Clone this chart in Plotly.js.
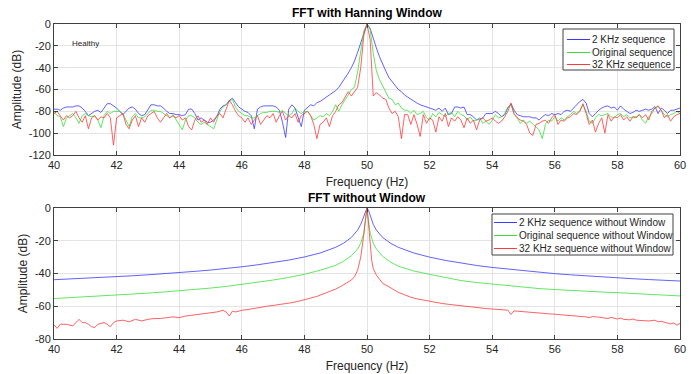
<!DOCTYPE html>
<html>
<head>
<meta charset="utf-8">
<script src="https://cdn.plot.ly/plotly-3.0.1.min.js"></script>
<style>html,body{margin:0;padding:0;background:#fff;}#chart{width:697px;height:374px;}</style>
</head>
<body>
<div id="chart"></div>
<script>
// ---------- Top panel: FFT with Hanning Window (0.1 Hz grid) ----------
const freqTop = [
40.0,40.1,40.2,40.3,40.4,40.5,40.6,40.7,40.8,40.9,
41.0,41.1,41.2,41.3,41.4,41.5,41.6,41.7,41.8,41.9,
42.0,42.1,42.2,42.3,42.4,42.5,42.6,42.7,42.8,42.9,
43.0,43.1,43.2,43.3,43.4,43.5,43.6,43.7,43.8,43.9,
44.0,44.1,44.2,44.3,44.4,44.5,44.6,44.7,44.8,44.9,
45.0,45.1,45.2,45.3,45.4,45.5,45.6,45.7,45.8,45.9,
46.0,46.1,46.2,46.3,46.4,46.5,46.6,46.7,46.8,46.9,
47.0,47.1,47.2,47.3,47.4,47.5,47.6,47.7,47.8,47.9,
48.0,48.1,48.2,48.3,48.4,48.5,48.6,48.7,48.8,48.9,
49.0,49.1,49.2,49.3,49.4,49.5,49.6,49.7,49.8,49.9,
50.0,50.1,50.2,50.3,50.4,50.5,50.6,50.7,50.8,50.9,
51.0,51.1,51.2,51.3,51.4,51.5,51.6,51.7,51.8,51.9,
52.0,52.1,52.2,52.3,52.4,52.5,52.6,52.7,52.8,52.9,
53.0,53.1,53.2,53.3,53.4,53.5,53.6,53.7,53.8,53.9,
54.0,54.1,54.2,54.3,54.4,54.5,54.6,54.7,54.8,54.9,
55.0,55.1,55.2,55.3,55.4,55.5,55.6,55.7,55.8,55.9,
56.0,56.1,56.2,56.3,56.4,56.5,56.6,56.7,56.8,56.9,
57.0,57.1,57.2,57.3,57.4,57.5,57.6,57.7,57.8,57.9,
58.0,58.1,58.2,58.3,58.4,58.5,58.6,58.7,58.8,58.9,
59.0,59.1,59.2,59.3,59.4,59.5,59.6,59.7,59.8,59.9,
60.0];

const han2k = [
-78,-78,-79,-77,-76,-76,-76,-75,-75,-77,
-80,-84,-82,-80,-79,-81,-77,-73,-73,-75,
-77,-80,-83,-80,-77,-76,-78,-82,-84,-83,
-78,-74,-74,-75,-75,-77,-80,-82,-82,-83,
-83,-84,-83,-78,-78,-82,-88,-86,-88,-90,
-90,-88,-85,-78,-75,-74,-70,-68,-72,-76,
-78,-80,-81,-84,-96,-78,-76,-75,-75,-75,
-75,-76,-79,-90,-104,-78,-74,-77,-86,-94,
-79,-76,-74,-75,-72,-71,-69,-67,-65,-63,
-61,-58,-54,-50,-45,-40,-34,-26,-17,-7,
0,-4,-14,-22,-30,-37,-43,-49,-53,-56,
-60,-62,-65,-67,-69,-71,-72.5,-74,-75,-76,
-77,-78,-79,-77,-80,-77,-83,-82,-76,-76,
-77,-76,-83,-83,-85,-88,-87,-86,-82,-82,
-82,-80,-82,-85,-83,-77,-73,-79,-83,-84,
-85,-85,-85,-86,-86,-88,-85,-83,-84,-82,
-83,-82,-83,-80,-79,-80,-77,-74,-71,-69,
-72.5,-82,-85,-82,-79,-77,-75.6,-75,-77,-76,
-79,-75,-78,-80,-82,-81,-79,-80,-79,-78,
-79,-78,-75.6,-82,-77,-79,-82,-79,-79,-78,
-77];

const hanOrig = [
-80,-84,-85,-94,-86,-84,-82,-86,-91,-84,
-82,-84,-85,-84,-88,-95,-84,-80,-82,-80,
-80,-80,-82,-88,-94,-85,-82,-86,-86,-85,
-82,-79,-79,-80,-80,-82,-84,-86,-83,-88,
-92,-97,-88,-84,-84,-86,-90,-92,-90,-92,
-94,-96,-88,-80,-76,-74,-71,-69,-76,-80,
-82,-84,-84,-86,-86,-84,-82,-81,-81,-80,
-80,-80,-81,-79,-82,-84,-82,-77,-80,-82,
-80,-80,-84,-88,-86,-84,-85,-82,-84,-80,
-74,-80,-74,-70,-65,-60,-58,-44,-24,-6,
0,-5,-27,-43,-51,-57,-63,-68,-69,-74,
-72.5,-77,-79,-79,-82,-79,-83,-82,-80,-86,
-88,-82,-85,-81,-83,-85,-82,-81,-85,-80,
-83,-84,-88,-85,-89,-88,-86,-91,-89,-92,
-88,-83,-86,-85,-82,-76,-74,-83,-86,-91,
-88,-91,-89,-92,-94,-97,-105,-92,-88,-89,
-85,-89,-86,-88,-85,-83,-80,-82,-79,-74,
-80,-89,-91,-86,-83,-84,-83,-82,-85,-86,
-83,-82,-85,-83,-86,-85,-85,-83,-88,-91,
-85,-82,-77,-75.6,-79,-83,-85,-83,-82,-80,
-82];

const han32k = [
-82,-80,-84,-88,-84,-86,-84,-80,-86,-90,
-84,-96,-86,-84,-88,-85,-86,-82,-86,-111,
-86,-84,-82,-92,-96,-88,-84,-94,-86,-90,
-84,-82,-80,-86,-90,-86,-82,-86,-84,-86,
-84,-88,-86,-94,-97,-88,-84,-90,-88,-92,
-86,-90,-84,-82,-86,-78,-70,-74,-80,-84,
-86,-90,-86,-92,-88,-84,-92,-88,-84,-86,
-82,-90,-84,-80,-88,-84,-86,-82,-90,-84,
-82,-80,-84,-92,-105,-92,-90,-86,-94,-84,
-80,-74,-72,-67,-62,-66,-62,-58,-40,-10,
0,-14,-66,-63,-65,-68,-69,-77,-82,-80,
-85,-105,-83,-83,-92,-83,-92,-103,-83,-91,
-86,-88,-99,-85,-89,-82,-94,-86,-89,-85,
-88,-95,-86,-91,-88,-97,-88,-86,-89,-88,
-86,-89,-91,-89,-85,-80,-72.5,-82,-86,-88,
-89,-92,-100,-102,-92,-91,-89,-88,-91,-86,
-83,-92,-88,-89,-86,-85,-82,-83,-80,-73,
-82,-92,-88,-99,-91,-86,-100,-83,-89,-85,
-86,-83,-88,-85,-89,-85,-86,-83,-86,-83,
-88,-80,-77,-75,-79,-86,-83,-89,-85,-83,
-82];

// ---------- Bottom panel: FFT without Window ----------
const freqRect = [40,40.5,41,41.5,42,42.5,43,43.5,44,44.5,45,45.5,46,46.5,47,47.5,48,48.5,49,49.25,49.5,49.7,49.8,49.9,49.95,50,
50.05,50.1,50.2,50.3,50.5,50.75,51,51.5,52,52.5,53,53.5,54,54.5,55,55.5,56,56.5,57,57.5,58,58.5,59,59.5,60];
const rect2k = [-43.8,-43.4,-43,-42.5,-42,-41.4,-40.8,-40.2,-39.5,-38.7,-37.9,-37,-35.9,-34.7,-33.3,-31.8,-29.9,-27.5,-24,-21.5,-18,-13.5,-10,-4.5,-1.5,0,
-1.5,-4.5,-10,-13.5,-18,-21.5,-24,-27.5,-30,-32,-33.7,-35.1,-36.3,-37.3,-38.3,-39.3,-40.1,-40.8,-41.5,-42.1,-42.7,-43.2,-43.7,-44.2,-44.6];
const rectOrig = [-55.3,-54.8,-54.3,-53.8,-53.3,-52.7,-52,-51.3,-50.6,-49.8,-48.9,-47.9,-46.7,-45.4,-44,-42.4,-40.5,-38,-35,-32.5,-29.2,-25,-21.5,-15,-8,0,
-8,-15,-21.5,-25,-29.5,-33,-35.5,-38.5,-40.5,-42.6,-44.3,-45.5,-46.5,-47.5,-48.4,-49.2,-49.8,-50.4,-50.9,-51.3,-51.7,-52.2,-52.7,-53.2,-53.7];

const freqRect32 = [40.0,40.1,40.2,40.4,40.6,40.7,40.8,40.9,41.0,41.1,41.2,41.3,41.4,41.5,41.6,41.7,41.8,41.9,42.0,42.2,42.4,42.6,42.8,
43.0,43.2,43.4,43.6,43.8,44.0,44.2,44.4,44.6,44.8,45.0,45.2,45.4,45.5,45.6,45.7,45.8,46.0,46.2,46.4,46.6,46.8,47.0,47.2,47.4,47.6,47.8,
48.0,48.2,48.4,48.6,48.8,49.0,49.2,49.4,49.5,49.6,49.7,49.8,49.85,49.9,49.95,50.0,50.05,50.1,50.15,50.2,50.3,50.4,50.5,50.6,50.8,
51.0,51.2,51.4,51.6,51.8,52.0,52.2,52.4,52.6,52.8,53.0,53.2,53.4,53.6,53.8,54.0,54.2,54.4,54.5,54.6,54.7,54.8,55.0,55.2,55.4,55.6,55.8,
56.0,56.2,56.4,56.6,56.8,57.0,57.1,57.2,57.4,57.6,57.7,57.8,58.0,58.1,58.2,58.4,58.5,58.6,58.8,59.0,59.2,59.3,59.4,59.6,59.7,59.8,59.9,60.0];
const rect32k = [-71.4,-73.5,-71,-71,-72,-70,-68,-70,-70,-71,-72.5,-73,-71,-70.5,-70,-71,-72.5,-70,-69,-68.5,-69.5,-68,-69,
-68,-67.5,-67.5,-67,-66.5,-67,-66,-65.5,-65,-64.5,-64,-63.5,-62.5,-63.5,-66,-63,-63.5,-62.5,-62,-61.2,-60.5,-60,-59.5,-59,-58.3,-57.8,-57,
-56,-55,-54,-52.5,-51,-49.5,-47.5,-45.5,-44,-42,-38,-30,-24,-16,-7,0,-10,-24,-32,-37,-41,-43.5,-46,-47,-49.5,
-51.5,-53,-54.5,-55.5,-56.3,-57,-57.7,-58.3,-58.8,-59.3,-59.8,-60.2,-60.6,-61,-61.4,-61.7,-62,-62.3,-62.4,-65,-62.8,-63,-63.4,-63.7,-64,-64.3,-64.6,
-64.9,-65.2,-65.5,-65.8,-66,-66.5,-67,-66.3,-66.6,-67,-67.5,-66.8,-67.8,-67.2,-68,-68.3,-67.8,-68.5,-68.8,-69,-68.5,-69.5,-69.2,-70,-70.8,-70.2,-71.5,-70.5];

// ---------- Labels / ticks ----------
const seriesNamesTop = ['2 KHz sequence','Original sequence','32 KHz sequence'];
const seriesNamesBottom = ['2 KHz sequence without Window','Original sequence without Window','32 KHz sequence without Window'];
const xTickVals = [40,42,44,46,48,50,52,54,56,58,60];
const yTickValsTop = [0,-20,-40,-60,-80,-100,-120];
const yTickValsBottom = [0,-20,-40,-60,-80];
const titleTop = 'FFT with Hanning Window';
const titleBottom = 'FFT without Window';
const noteText = 'Healthy';

// ---------- Styling ----------
const colors = ['#3a3aff','#3ae03a','#ff3a3a'];
const FONT = '"Liberation Sans", Arial, Helvetica, sans-serif';
const txt = '#262626';
const hy = v => String(v).replace('\u2212','-');

function tr(x, y, name, c, xa, ya) {
  return {x: x, y: y, name: name, type: 'scatter', mode: 'lines',
    line: {color: c, width: 0.8}, xaxis: xa, yaxis: ya, showlegend: false, hoverinfo: 'skip'};
}

const data = [
  tr(freqTop, han2k, seriesNamesTop[0], colors[0], 'x', 'y'),
  tr(freqTop, hanOrig, seriesNamesTop[1], colors[1], 'x', 'y'),
  tr(freqTop, han32k, seriesNamesTop[2], colors[2], 'x', 'y'),
  tr(freqRect, rect2k, seriesNamesBottom[0], colors[0], 'x2', 'y2'),
  tr(freqRect, rectOrig, seriesNamesBottom[1], colors[1], 'x2', 'y2'),
  tr(freqRect32, rect32k, seriesNamesBottom[2], colors[2], 'x2', 'y2')
];

const L = 54, R = 17, T = 24, B = 35, W = 697, H = 374;
const pw = W - L - R, ph = H - T - B;
const px = v => (v - L) / pw;          // pixel x -> paper x
const py = v => 1 - (v - T) / ph;      // pixel y -> paper y

function xax(anchor, title) {
  return {anchor: anchor, domain: [0, 1], range: [40, 60], tickvals: xTickVals,
    ticktext: xTickVals.map(String), ticks: 'inside', ticklen: 4, tickcolor: '#404040',
    showline: true, mirror: 'ticks', linecolor: '#404040', linewidth: 1,
    showgrid: true, gridcolor: '#e4e4e4', zeroline: false,
    tickfont: {family: FONT, size: 11, color: txt},
    title: {text: title, font: {family: FONT, size: 12, color: txt}, standoff: 7}};
}
function yax(anchor, dom, rng, vals) {
  return {anchor: anchor, domain: dom, range: rng, tickvals: vals,
    ticktext: vals.map(v => hy(v)), ticks: 'inside', ticklen: 4, tickcolor: '#404040',
    showline: true, mirror: 'ticks', linecolor: '#404040', linewidth: 1,
    showgrid: true, gridcolor: '#e4e4e4', zeroline: false,
    tickfont: {family: FONT, size: 11, color: txt},
    title: {text: 'Amplitude (dB)', font: {family: FONT, size: 12, color: txt}, standoff: 4}};
}

const shapes = [];
const annotations = [
  {xref: 'paper', yref: 'paper', x: 0.5, y: py(13), xanchor: 'center', yanchor: 'middle', showarrow: false,
   text: '<b>' + titleTop + '</b>', font: {family: FONT, size: 12, color: '#000'}},
  {xref: 'paper', yref: 'paper', x: 0.5, y: py(198), xanchor: 'center', yanchor: 'middle', showarrow: false,
   text: '<b>' + titleBottom + '</b>', font: {family: FONT, size: 12, color: '#000'}},
  {xref: 'x', yref: 'y', x: 40.5, y: -17.4, xanchor: 'left', yanchor: 'middle', showarrow: false,
   text: noteText, font: {family: FONT, size: 8, color: txt}}
];

function legendBox(box, rows, lineX, textX, names) {
  shapes.push({type: 'rect', xref: 'paper', yref: 'paper', x0: px(box[0]), x1: px(box[1]), y0: py(box[3]), y1: py(box[2]),
    line: {color: '#404040', width: 1}, fillcolor: '#ffffff', layer: 'above'});
  names.forEach((n, i) => {
    shapes.push({type: 'line', xref: 'paper', yref: 'paper', x0: px(lineX[0]), x1: px(lineX[1]), y0: py(rows[i]), y1: py(rows[i]),
      line: {color: colors[i], width: 1}, layer: 'above'});
    annotations.push({xref: 'paper', yref: 'paper', x: px(textX), y: py(rows[i]), xanchor: 'left', yanchor: 'middle',
      showarrow: false, text: n, font: {family: FONT, size: 10, color: txt}, xshift: -2});
  });
}
legendBox([563, 674, 29, 70], [39.5, 52.5, 64.5], [567, 590], 592, seriesNamesTop);
legendBox([492, 673, 214, 255], [222.5, 235.5, 248.5], [494, 517], 519, seriesNamesBottom);

const layout = {
  width: W, height: H, margin: {l: L, r: R, t: T, b: B}, paper_bgcolor: '#ffffff', plot_bgcolor: '#ffffff',
  showlegend: false, font: {family: FONT, color: txt},
  xaxis: xax('y', 'Frequency (Hz)'),
  yaxis: yax('x', [1 - (155 - 24) / ph, 1], [-120, 0], yTickValsTop),
  xaxis2: xax('y2', 'Frequency (Hz)'),
  yaxis2: yax('x2', [0, (339 - 208) / ph], [-80, 0], yTickValsBottom),
  shapes: shapes, annotations: annotations
};

Plotly.newPlot('chart', data, layout, {staticPlot: true, displayModeBar: false});
</script>
</body>
</html>
